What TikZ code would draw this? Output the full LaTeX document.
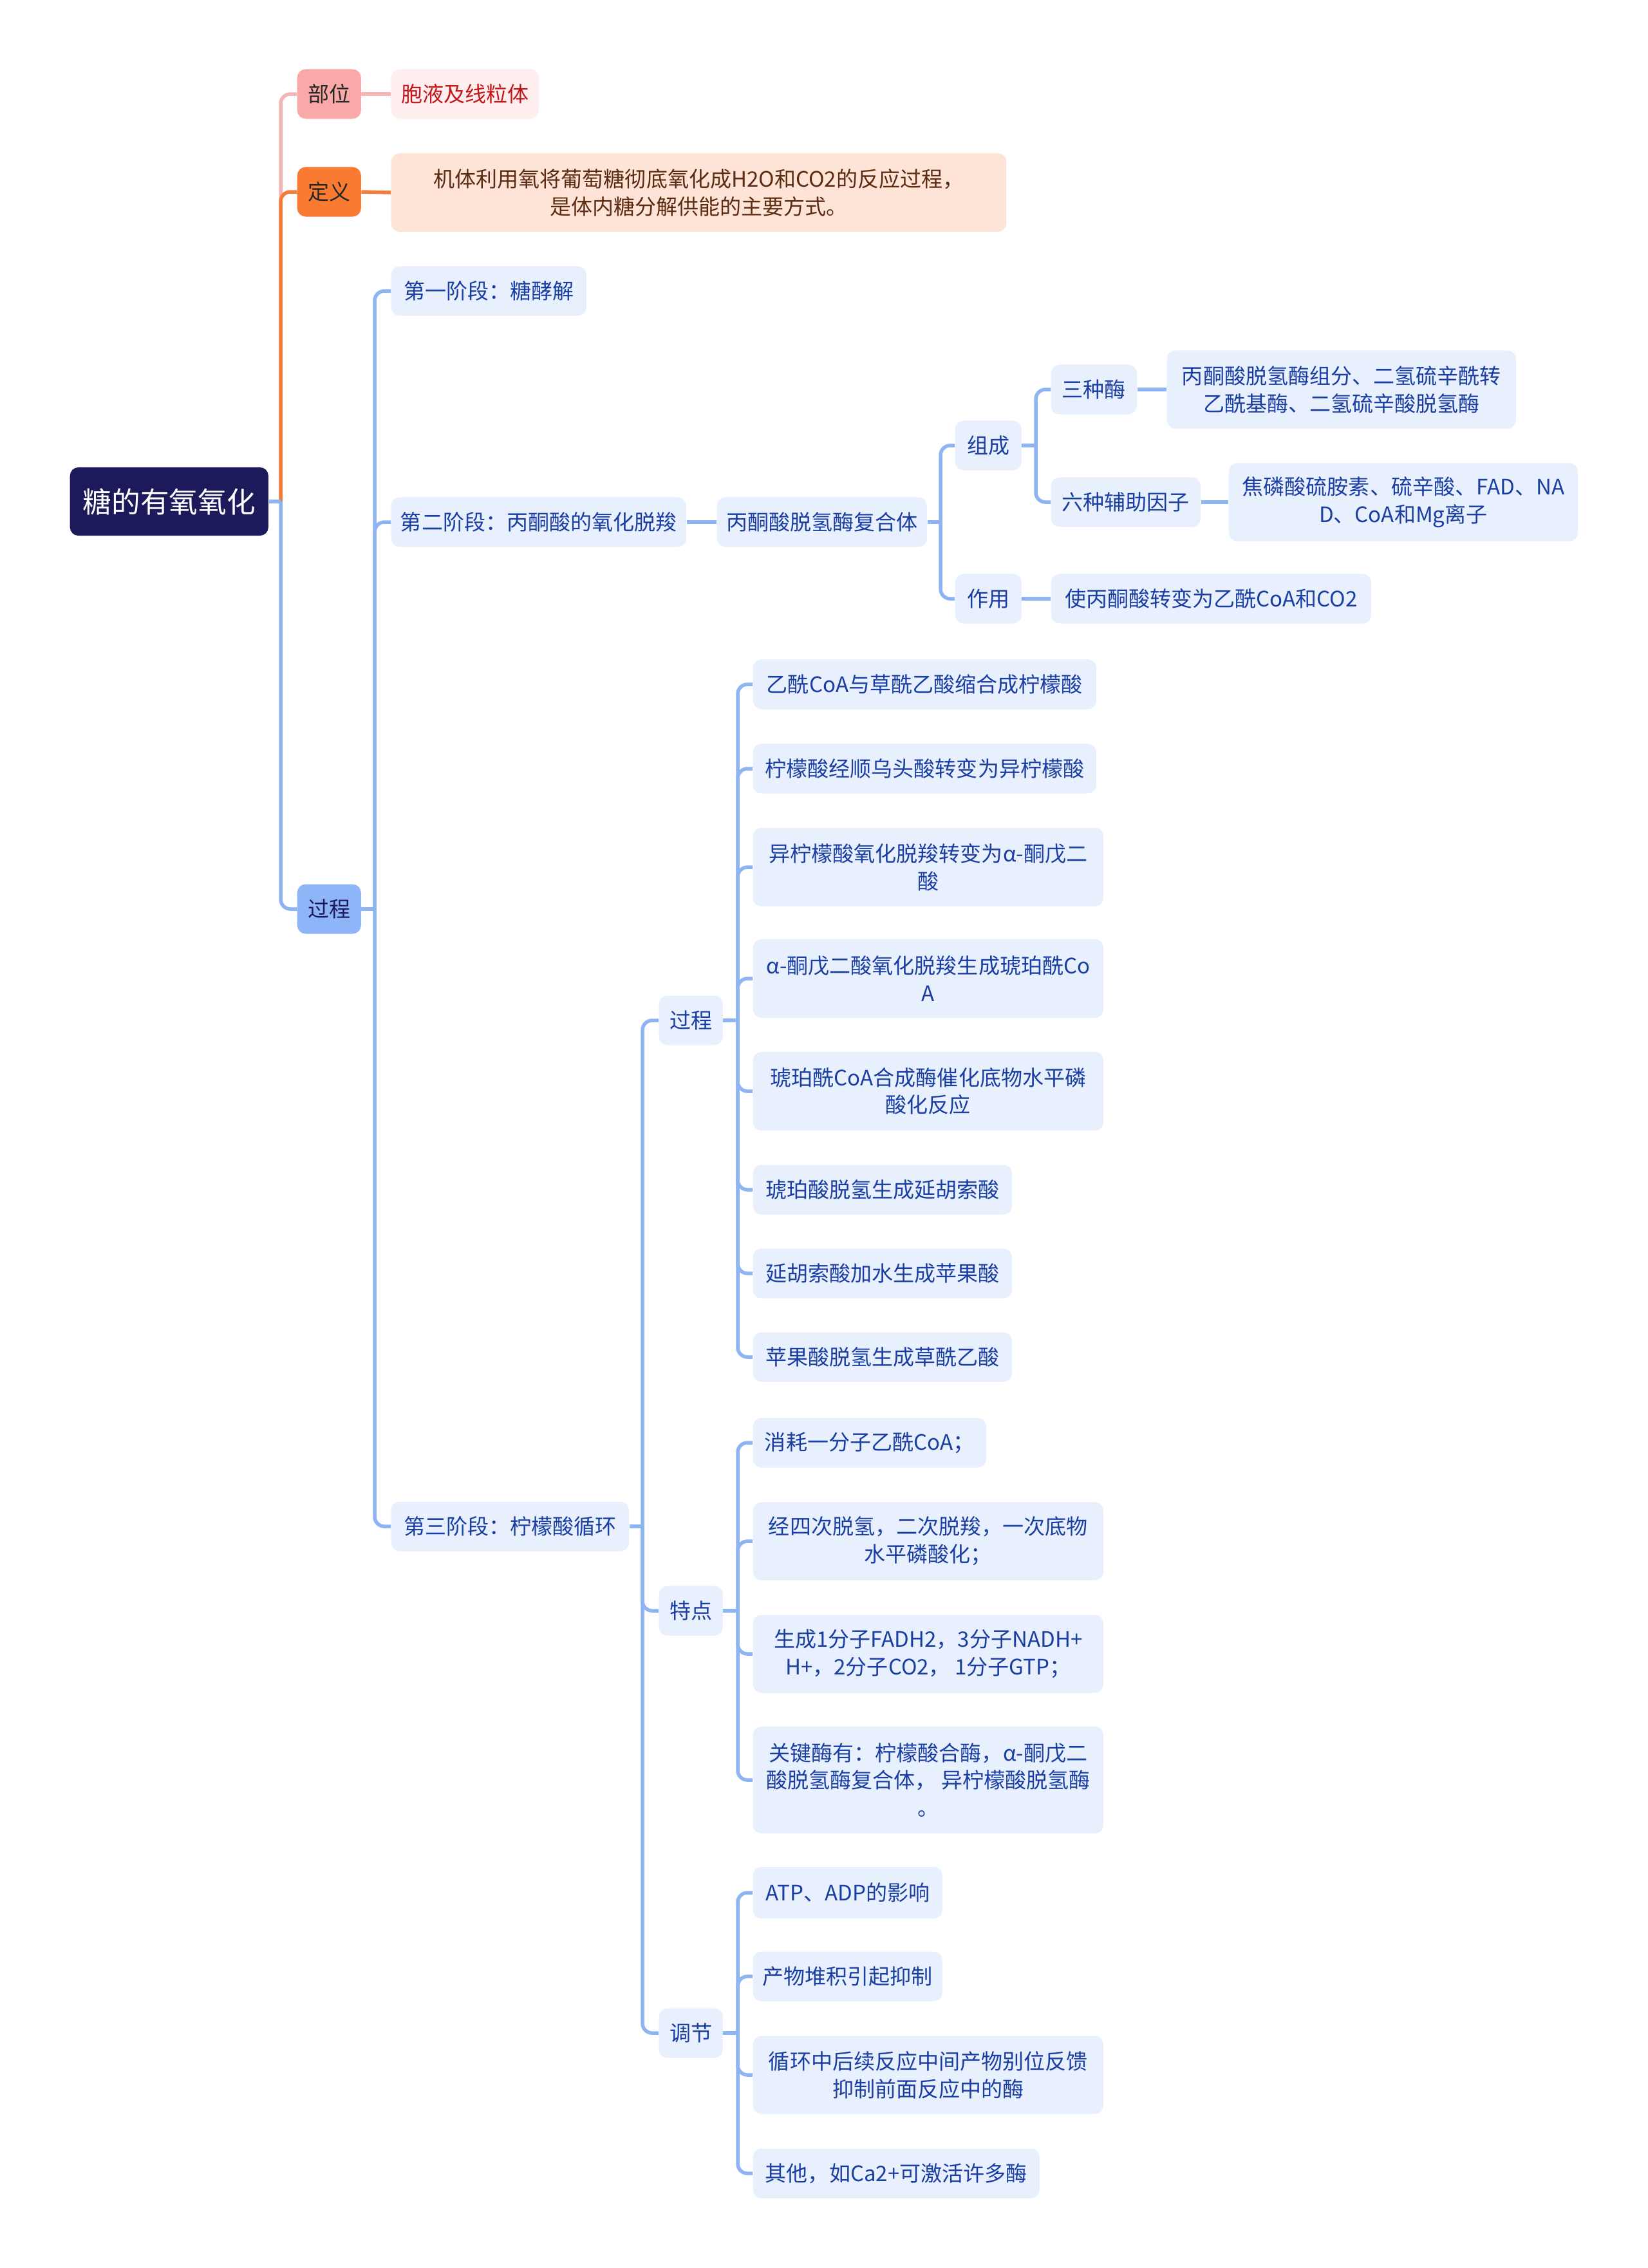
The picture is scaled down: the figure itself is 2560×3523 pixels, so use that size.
\documentclass[tikz,border=0pt]{standalone}
\usepackage{fontspec}
\setmainfont{Noto Sans CJK SC}

\definecolor{rootc}{HTML}{1C1A5B}
\definecolor{pinkc}{HTML}{F9A9A8}
\definecolor{pinkl}{HTML}{F7B4B4}
\definecolor{pinkleaf}{HTML}{FEEEEE}
\definecolor{pinktxt}{HTML}{C3161C}
\definecolor{orangec}{HTML}{F97B32}
\definecolor{orangel}{HTML}{F47C36}
\definecolor{peachc}{HTML}{FEE4D6}
\definecolor{peachtxt}{HTML}{5B2B12}
\definecolor{bluec}{HTML}{8EB5F7}
\definecolor{bluel}{HTML}{8FB4F3}
\definecolor{leafc}{HTML}{E8F0FD}
\definecolor{leaftxt}{HTML}{1A3EA2}

\begin{document}
\begin{tikzpicture}[x=0.01cm,y=-0.01cm]

%styles des boites et des traits
\tikzset{
    box/.style={rounded corners=0.13cm, anchor=west, minimum height=0.77cm,
        inner sep=0pt, align=center, font=\fontsize{9.4}{12.2}\selectfont},
    rootbox/.style={box, fill=rootc, text=white, minimum width=3.08cm,
        minimum height=1.06cm, font=\fontsize{12.7}{15}\selectfont},
    pinkbox/.style={box, fill=pinkc, text=black!85, minimum width=0.99cm},
    orangebox/.style={box, fill=orangec, text=black!85, minimum width=0.99cm},
    bluebox/.style={box, fill=bluec, text=rootc, minimum width=0.99cm},
    pinkleafbox/.style={box, fill=pinkleaf, text=pinktxt},
    peachbox/.style={box, fill=peachc, text=peachtxt},
    leaf/.style={box, fill=leafc, text=leaftxt},
    pline/.style={draw=pinkl, line width=0.055cm},
    oline/.style={draw=orangel, line width=0.055cm},
    bline/.style={draw=bluel, line width=0.055cm},
}

\path[use as bounding box, fill=white] (0,0) rectangle (2560,3523);

%racine et premier niveau
\node[rootbox] (root) at (108,779) {糖的有氧氧化};
\node[pinkbox] (buwei) at (461,146) {部位};
\node[orangebox] (dingyi) at (461,298) {定义};
\node[bluebox] (guocheng) at (461,1412) {过程};

\node[pinkleafbox, minimum width=2.29cm] (yewei) at (607,146) {胞液及线粒体};
\node[peachbox, minimum width=9.55cm, minimum height=1.22cm] (dydef) at (607,299)
    {机体利用氧将葡萄糖彻底氧化成H2O和CO2的反应过程，\\是体内糖分解供能的主要方式。};

%trois etapes
\node[leaf, minimum width=3.03cm] (jd1) at (607,452) {第一阶段：糖酵解};
\node[leaf, minimum width=4.58cm] (jd2) at (607,811) {第二阶段：丙酮酸的氧化脱羧};
\node[leaf, minimum width=3.69cm] (jd3) at (607,2371) {第三阶段：柠檬酸循环};

%deuxieme etape
\node[leaf, minimum width=3.26cm] (fhm) at (1113,811) {丙酮酸脱氢酶复合体};
\node[leaf, minimum width=1.03cm] (zucheng) at (1483,692) {组成};
\node[leaf, minimum width=1.03cm] (zuoyong) at (1483,930) {作用};
\node[leaf, minimum width=1.33cm] (sanzhong) at (1632,605) {三种酶};
\node[leaf, minimum width=2.32cm] (liuzhong) at (1632,780) {六种辅助因子};
\node[leaf, minimum width=5.42cm, minimum height=1.21cm] (sanzhongd) at (1812,605)
    {丙酮酸脱氢酶组分、二氢硫辛酰转\\乙酰基酶、二氢硫辛酸脱氢酶};
\node[leaf, minimum width=5.42cm, minimum height=1.21cm] (liuzhongd) at (1908,780)
    {焦磷酸硫胺素、硫辛酸、FAD、NA\\D、CoA和Mg离子};
\node[leaf, minimum width=4.97cm] (zuoyongd) at (1632,930) {使丙酮酸转变为乙酰CoA和CO2};

%troisieme etape
\node[leaf, minimum width=0.99cm] (gc) at (1023,1585) {过程};
\node[leaf, minimum width=0.99cm] (td) at (1023,2502) {特点};
\node[leaf, minimum width=0.99cm] (tj) at (1023,3158) {调节};

\node[leaf, minimum width=5.33cm] (gc1) at (1169,1063) {乙酰CoA与草酰乙酸缩合成柠檬酸};
\node[leaf, minimum width=5.33cm] (gc2) at (1169,1194) {柠檬酸经顺乌头酸转变为异柠檬酸};
\node[leaf, minimum width=5.44cm, minimum height=1.22cm] (gc3) at (1169,1347)
    {异柠檬酸氧化脱羧转变为α-酮戊二\\酸};
\node[leaf, minimum width=5.44cm, minimum height=1.22cm] (gc4) at (1169,1520)
    {α-酮戊二酸氧化脱羧生成琥珀酰Co\\A};
\node[leaf, minimum width=5.44cm, minimum height=1.22cm] (gc5) at (1169,1695)
    {琥珀酰CoA合成酶催化底物水平磷\\酸化反应};
\node[leaf, minimum width=4.02cm] (gc6) at (1169,1848) {琥珀酸脱氢生成延胡索酸};
\node[leaf, minimum width=4.02cm] (gc7) at (1169,1978) {延胡索酸加水生成苹果酸};
\node[leaf, minimum width=4.02cm] (gc8) at (1169,2108) {苹果酸脱氢生成草酰乙酸};

\node[leaf, minimum width=3.62cm] (td1) at (1169,2241) {消耗一分子乙酰CoA；};
\node[leaf, minimum width=5.44cm, minimum height=1.21cm] (td2) at (1169,2394)
    {经四次脱氢，二次脱羧，一次底物\\水平磷酸化；};
\node[leaf, minimum width=5.44cm, minimum height=1.21cm] (td3) at (1169,2569)
    {生成1分子FADH2，3分子NADH+\\H+，2分子CO2， 1分子GTP；};
\node[leaf, minimum width=5.44cm, minimum height=1.66cm] (td4) at (1169,2765)
    {关键酶有：柠檬酸合酶，α-酮戊二\\酸脱氢酶复合体， 异柠檬酸脱氢酶\\。};

\node[leaf, minimum width=2.94cm, minimum height=0.8cm] (tj1) at (1169,2940) {ATP、ADP的影响};
\node[leaf, minimum width=2.94cm] (tj2) at (1169,3070) {产物堆积引起抑制};
\node[leaf, minimum width=5.44cm, minimum height=1.21cm] (tj3) at (1169,3223)
    {循环中后续反应中间产物别位反馈\\抑制前面反应中的酶};
\node[leaf, minimum width=4.45cm] (tj4) at (1169,3376) {其他，如Ca2+可激活许多酶};

%points de branchement
\coordinate (j0) at (436,779);
\coordinate (j1) at (582,1412);
\coordinate (j2) at (1461,811);
\coordinate (j3) at (1609,692);
\coordinate (j4) at (998,2371);
\coordinate (j5) at (1146,1585);
\coordinate (j6) at (1146,2502);
\coordinate (j7) at (1146,3158);

%traits
\draw[pline] (root.east) -- (j0);
\draw[pline, rounded corners=0.15cm] (j0) |- (buwei.west);
\draw[oline] (root.east) -- (j0);
\draw[oline, rounded corners=0.15cm] (j0) |- (dingyi.west);
\draw[bline] (root.east) -- (j0);
\draw[bline, rounded corners=0.15cm] (j0) |- (guocheng.west);

\draw[pline] (buwei.east) -- (yewei.west);
\draw[oline] (dingyi.east) -- (dydef.west);

\draw[bline] (guocheng.east) -- (j1);
\draw[bline, rounded corners=0.15cm] (j1) |- (jd1.west);
\draw[bline, rounded corners=0.15cm] (j1) |- (jd2.west);
\draw[bline, rounded corners=0.15cm] (j1) |- (jd3.west);

\draw[bline] (jd2.east) -- (fhm.west);
\draw[bline] (fhm.east) -- (j2);
\draw[bline, rounded corners=0.15cm] (j2) |- (zucheng.west);
\draw[bline, rounded corners=0.15cm] (j2) |- (zuoyong.west);
\draw[bline] (zucheng.east) -- (j3);
\draw[bline, rounded corners=0.15cm] (j3) |- (sanzhong.west);
\draw[bline, rounded corners=0.15cm] (j3) |- (liuzhong.west);
\draw[bline] (sanzhong.east) -- (sanzhongd.west);
\draw[bline] (liuzhong.east) -- (liuzhongd.west);
\draw[bline] (zuoyong.east) -- (zuoyongd.west);

\draw[bline] (jd3.east) -- (j4);
\draw[bline, rounded corners=0.15cm] (j4) |- (gc.west);
\draw[bline, rounded corners=0.15cm] (j4) |- (td.west);
\draw[bline, rounded corners=0.15cm] (j4) |- (tj.west);

\draw[bline] (gc.east) -- (j5);
\draw[bline, rounded corners=0.15cm] (j5) |- (gc1.west);
\draw[bline, rounded corners=0.15cm] (j5) |- (gc2.west);
\draw[bline, rounded corners=0.15cm] (j5) |- (gc3.west);
\draw[bline, rounded corners=0.15cm] (j5) |- (gc4.west);
\draw[bline, rounded corners=0.15cm] (j5) |- (gc5.west);
\draw[bline, rounded corners=0.15cm] (j5) |- (gc6.west);
\draw[bline, rounded corners=0.15cm] (j5) |- (gc7.west);
\draw[bline, rounded corners=0.15cm] (j5) |- (gc8.west);

\draw[bline] (td.east) -- (j6);
\draw[bline, rounded corners=0.15cm] (j6) |- (td1.west);
\draw[bline, rounded corners=0.15cm] (j6) |- (td2.west);
\draw[bline, rounded corners=0.15cm] (j6) |- (td3.west);
\draw[bline, rounded corners=0.15cm] (j6) |- (td4.west);

\draw[bline] (tj.east) -- (j7);
\draw[bline, rounded corners=0.15cm] (j7) |- (tj1.west);
\draw[bline, rounded corners=0.15cm] (j7) |- (tj2.west);
\draw[bline, rounded corners=0.15cm] (j7) |- (tj3.west);
\draw[bline, rounded corners=0.15cm] (j7) |- (tj4.west);

\end{tikzpicture}
\end{document}
